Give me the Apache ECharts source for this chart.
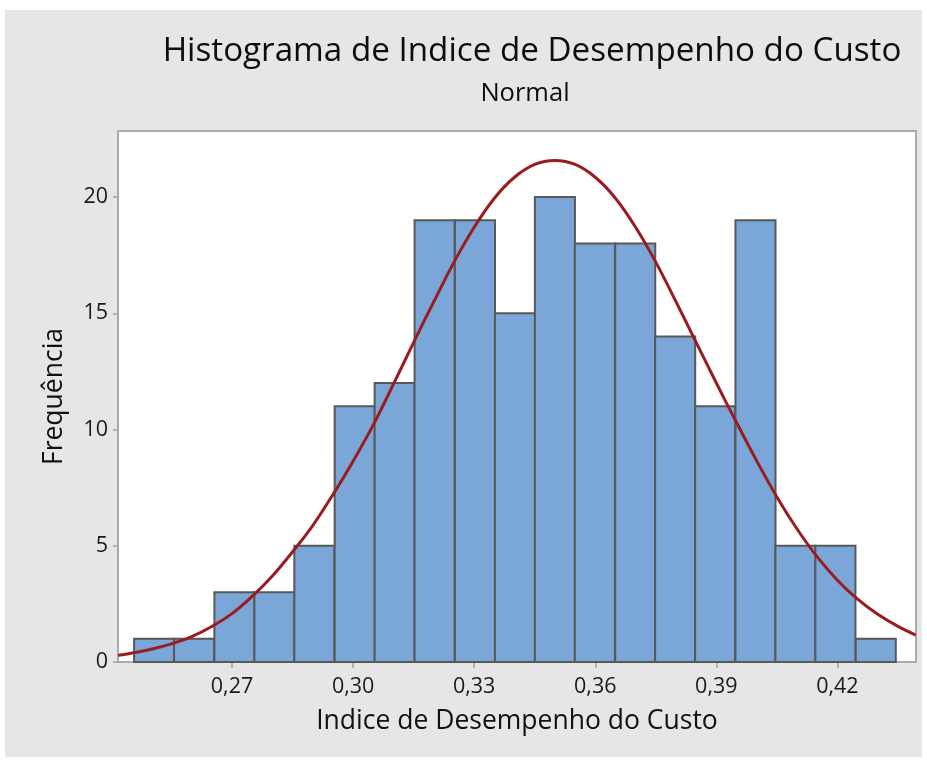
<!DOCTYPE html>
<html>
<head>
<meta charset="utf-8">
<script src="https://cdn.jsdelivr.net/npm/echarts@6/dist/echarts.min.js"></script>
<style>
  html, body { margin: 0; padding: 0; background: #ffffff; }
  #chart { width: 927px; height: 765px; }
</style>
</head>
<body>
<div id="chart"></div>
<script>
// Histogram bins (midpoints) and their frequencies
const binMidpoints = [0.2507, 0.2606, 0.2706, 0.2805, 0.2904, 0.3004, 0.3103, 0.3202, 0.3302, 0.3401,
                      0.3500, 0.3599, 0.3699, 0.3798, 0.3897, 0.3997, 0.4096, 0.4195, 0.4295];
const binWidth = 0.00993;
const frequencies = [1, 1, 3, 3, 5, 11, 12, 19, 19, 15, 20, 18, 18, 14, 11, 19, 5, 5, 1];

// Fitted normal curve, sampled along the axis
const curveX = [0.2418, 0.245, 0.250, 0.255, 0.260, 0.265, 0.270, 0.275, 0.280, 0.285,
                0.290, 0.295, 0.300, 0.305, 0.310, 0.315, 0.320, 0.325, 0.330, 0.335,
                0.340, 0.345, 0.350, 0.355, 0.360, 0.365, 0.370, 0.375, 0.380, 0.385,
                0.390, 0.395, 0.400, 0.405, 0.410, 0.415, 0.420, 0.425, 0.430, 0.435, 0.4394];
const curveY = [0.29, 0.38, 0.55, 0.78, 1.09, 1.53, 2.08, 2.82, 3.70, 4.74,
                5.87, 7.20, 8.64, 10.2, 11.95, 13.75, 15.5, 17.2, 18.7, 19.95,
                20.85, 21.4, 21.57, 21.4, 20.85, 19.95, 18.7, 17.2, 15.5, 13.75,
                12.0, 10.3, 8.65, 7.1, 5.72, 4.52, 3.52, 2.7, 2.05, 1.53, 1.16];

// Axis ticks
const xTicks = [0.27, 0.30, 0.33, 0.36, 0.39, 0.42];
const yTicks = [0, 5, 10, 15, 20];

const FONT = 'Open Sans';
const chart = echarts.init(document.getElementById('chart'), null, { renderer: 'canvas' });

const histData = binMidpoints.map((m, i) => [m, frequencies[i]]);
const curveData = curveX.map((x, i) => [x, curveY[i]]);

chart.setOption({
  backgroundColor: '#ffffff',
  animation: false,
  graphic: [{
    type: 'rect', z: -10, silent: true,
    shape: { x: 5, y: 10, width: 917, height: 747 },
    style: { fill: '#e6e6e6' }
  }],
  title: [{
    text: 'Histograma de Indice de Desempenho do Custo',
    left: 532, top: 35, textAlign: 'center', padding: 0,
    textStyle: { fontFamily: FONT, fontSize: 33.2, fontWeight: 'normal', color: '#0d0d0d' }
  }, {
    text: 'Normal',
    left: 525, top: 81, textAlign: 'center', padding: 0,
    textStyle: { fontFamily: FONT, fontSize: 25.5, fontWeight: 'normal', color: '#0d0d0d' }
  }],
  grid: {
    left: 118, top: 131, width: 798, height: 531,
    show: true, backgroundColor: '#ffffff', borderColor: '#ababab', borderWidth: 2,
    outerBoundsMode: 'none'
  },
  xAxis: {
    type: 'value', min: 0.24175, max: 0.43947,
    name: 'Indice de Desempenho do Custo', nameLocation: 'middle', nameGap: 46,
    nameMoveOverlap: false,
    nameTextStyle: { fontFamily: FONT, fontSize: 26.5, color: '#111111' },
    axisLine: { show: true, lineStyle: { color: '#ababab', width: 2 } },
    axisTick: { show: true, customValues: xTicks, length: 6, inside: false,
                lineStyle: { color: '#a0a0a0', width: 1.5 } },
    axisLabel: { customValues: xTicks, margin: 14, fontFamily: FONT, fontSize: 21.5, color: '#1a1a1a',
                 formatter: v => v.toFixed(2).replace('.', ',') },
    splitLine: { show: false }
  },
  yAxis: {
    type: 'value', min: 0, max: 22.84,
    name: 'Frequência', nameLocation: 'middle', nameGap: 50, nameRotate: 90,
    nameMoveOverlap: false,
    nameTextStyle: { fontFamily: FONT, fontSize: 26.5, color: '#111111' },
    axisLine: { show: true, lineStyle: { color: '#ababab', width: 2 } },
    axisTick: { show: true, customValues: yTicks, length: 5, inside: false,
                lineStyle: { color: '#a0a0a0', width: 1.5 } },
    axisLabel: { customValues: yTicks, margin: 10, fontFamily: FONT, fontSize: 21.5, color: '#1a1a1a' },
    splitLine: { show: false }
  },
  series: [{
    type: 'custom',
    name: 'Frequência',
    data: histData,
    encode: { x: 0, y: 1 },
    renderItem: function (params, api) {
      const mid = api.value(0);
      const n = api.value(1);
      const p0 = api.coord([mid - binWidth / 2, n]);
      const p1 = api.coord([mid + binWidth / 2, 0]);
      return {
        type: 'rect',
        shape: { x: p0[0], y: p0[1], width: p1[0] - p0[0], height: p1[1] - p0[1] },
        style: { fill: '#7aa6d8', stroke: '#585858', lineWidth: 2 }
      };
    },
    z: 2
  }, {
    type: 'line',
    name: 'Normal',
    data: curveData,
    smooth: 0.35,
    showSymbol: false,
    symbol: 'none',
    lineStyle: { color: '#9b1c20', width: 3 },
    z: 3
  }]
});
</script>
</body>
</html>
